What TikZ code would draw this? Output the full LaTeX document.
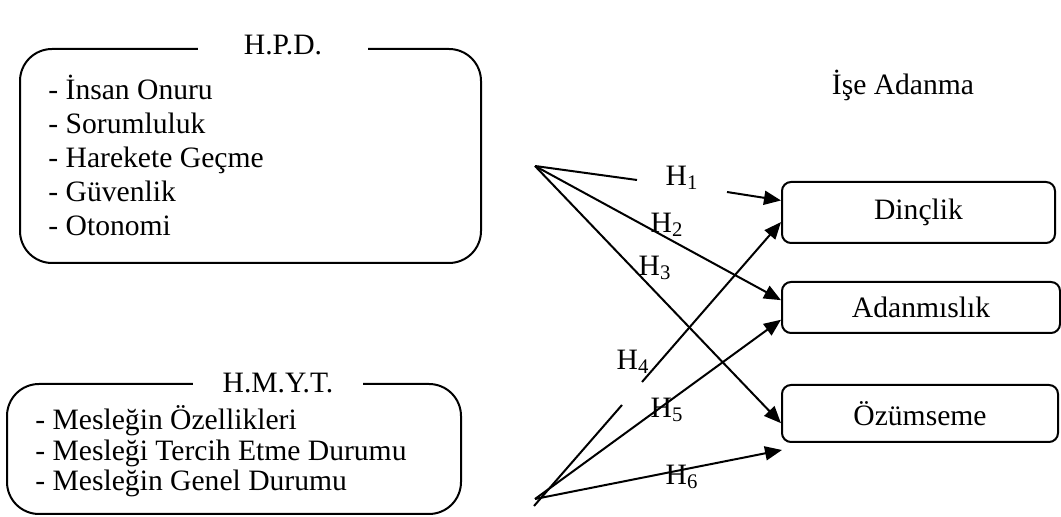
\documentclass[tikz,border=0pt]{standalone}
\usepackage{fontspec}
\setmainfont{Liberation Serif}
\usetikzlibrary{arrows.meta}

\begin{document}
\begin{tikzpicture}[x=0.5pt,y=-0.5pt,
    every node/.style={font=\fontsize{14.8pt}{17pt}\selectfont},
    bigbox/.style={draw,rounded corners=16pt,line width=1pt},
    dimbox/.style={draw,rounded corners=4.5pt,line width=1pt},
    boxtitle/.style={fill=white,inner sep=0pt,minimum width=85pt,minimum height=14pt},
    item/.style={anchor=base west,inner sep=0pt},
    hlabel/.style={inner sep=0pt},
    conn/.style={-,line width=1pt},
    arr/.style={-{Triangle[length=8.5pt,width=7pt]},line width=1pt}]
    \useasboundingbox (0,0) rectangle (1061,517);

    \coordinate (s1) at (535,166);
    \coordinate (s2) at (535,499);
    \coordinate (s2b) at (534,506);
    \coordinate (h1a) at (637,180);
    \coordinate (h1b) at (727,192);
    \coordinate (h4a) at (622,405);
    \coordinate (h4b) at (642,382);
    \coordinate (h6end) at (782,450);

    \node (hpd) at (250.5,156) [bigbox,minimum width=230.5pt,minimum height=107pt] {};
    \node (hpdtitle) at (283,45) [boxtitle] {H.P.D.};
    \node (hpd1) at (48,100) [item] {- İnsan Onuru};
    \node (hpd2) at (48,134) [item] {- Sorumluluk};
    \node (hpd3) at (48,168) [item] {- Harekete Geçme};
    \node (hpd4) at (48,202) [item] {- Güvenlik};
    \node (hpd5) at (48,236) [item] {- Otonomi};

    \node (hmyt) at (234,449) [bigbox,minimum width=227pt,minimum height=65pt] {};
    \node (hmyttitle) at (278,383) [boxtitle] {H.M.Y.T.};
    \node (hmyt1) at (35,430) [item] {- Mesleğin Özellikleri};
    \node (hmyt2) at (35,461) [item] {- Mesleği Tercih Etme Durumu};
    \node (hmyt3) at (35,491) [item] {- Mesleğin Genel Durumu};

    \node (ise) at (903,95) [anchor=base,inner sep=0pt] {İşe Adanma};
    \node (dinc) at (918.5,212.5) [dimbox,minimum width=136.5pt,minimum height=30.5pt] {Dinçlik};
    \node (adan) at (921,307.5) [dimbox,minimum width=139pt,minimum height=25.5pt] {Adanmıslık};
    \node (ozum) at (920,413.5) [dimbox,minimum width=138pt,minimum height=28.5pt] {Özümseme};

    \node (lh1) at (682,178) [hlabel] {H\textsubscript{1}};
    \node (lh2) at (667,225) [hlabel] {H\textsubscript{2}};
    \node (lh3) at (655,268) [hlabel] {H\textsubscript{3}};
    \node (lh4) at (633,362) [hlabel] {H\textsubscript{4}};
    \node (lh5) at (667,410) [hlabel] {H\textsubscript{5}};
    \node (lh6) at (682,477) [hlabel] {H\textsubscript{6}};

    \draw[conn] (s1) -- (h1a);
    \draw[arr] (h1b) -- (dinc.175);
    \draw[arr] (s1) -- (adan.177);
    \draw[arr] (s1) -- (ozum.184);

    \draw[conn] (s2b) -- (h4a);
    \draw[arr] (h4b) -- (dinc.184);
    \draw[arr] (s2) -- (adan.185);
    \draw[arr] (s2) -- (h6end);

\end{tikzpicture}
\end{document}
